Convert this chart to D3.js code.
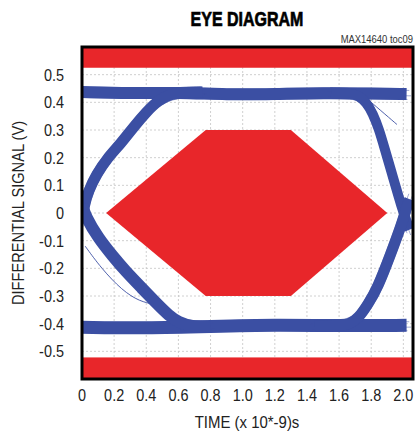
<!DOCTYPE html>
<html>
<head>
<meta charset="utf-8">
<script src="https://cdn.jsdelivr.net/npm/d3@7"></script>
<style>
  body { margin: 0; background: #fff; }
  svg text { font-family: "Liberation Sans", Arial, sans-serif; fill: #222; }
</style>
</head>
<body>
<svg id="chart" width="415" height="440"></svg>
<script>
const WIDTH = 415;
const HEIGHT = 440;
const margin = { top: 47, right: 2, bottom: 61, left: 82 };

// axis ticks
const xTicks = [0, 0.2, 0.4, 0.6, 0.8, 1.0, 1.2, 1.4, 1.6, 1.8, 2.0];
const xTickLabels = ["0", "0.2", "0.4", "0.6", "0.8", "1.0", "1.2", "1.4", "1.6", "1.8", "2.0"];
const yTicks = [0.5, 0.4, 0.3, 0.2, 0.1, 0, -0.1, -0.2, -0.3, -0.4, -0.5];
const yTickLabels = ["0.5", "0.4", "0.3", "0.2", "0.1", "0", "-0.1", "-0.2", "-0.3", "-0.4", "-0.5"];

// mask regions (time in ns, volts)
const maskTop = [0.525, 0.6];
const maskBottom = [-0.6, -0.522];
const maskEye = [[0.15, 0], [0.77, 0.3], [1.3, 0.3], [1.9, 0], [1.3, -0.3], [0.77, -0.3]];

// eye traces (time in ns, volts)
const topRail = [[0.0, 0.437], [0.3, 0.432], [0.6, 0.436], [0.9, 0.428], [1.2, 0.43], [1.5, 0.434], [1.8, 0.432], [2.02, 0.43]];
const bottomRail = [[0.0, -0.413], [0.4, -0.416], [0.8, -0.41], [1.2, -0.404], [1.6, -0.408], [2.02, -0.406]];
const riseLeft = [[0.0, -0.03], [0.01, 0.02], [0.04, 0.08], [0.09, 0.14], [0.16, 0.2], [0.24, 0.25], [0.32, 0.31], [0.4, 0.365], [0.47, 0.405], [0.55, 0.43], [0.65, 0.437], [0.75, 0.437]];
const fallLeft = [[0.0, 0.03], [0.02, -0.01], [0.1, -0.09], [0.19, -0.155], [0.27, -0.21], [0.37, -0.27], [0.47, -0.33], [0.54, -0.37], [0.6, -0.395], [0.68, -0.41], [0.8, -0.412]];
const fallRight = [[1.55, 0.434], [1.67, 0.432], [1.72, 0.425], [1.77, 0.4], [1.81, 0.36], [1.85, 0.3], [1.88, 0.24], [1.94, 0.12], [1.99, 0.02], [2.02, -0.03], [2.04, -0.06]];
const riseRight = [[1.45, -0.408], [1.6, -0.407], [1.67, -0.4], [1.72, -0.38], [1.78, -0.33], [1.84, -0.27], [1.92, -0.15], [1.99, -0.04], [2.02, 0.02], [2.04, 0.05]];
const strayLeft = [[0.02, -0.12], [0.12, -0.2], [0.25, -0.28], [0.36, -0.32], [0.45, -0.33]];
const strayRight = [[1.76, 0.42], [1.86, 0.37], [1.96, 0.32]];

const RED = "#e8262a";
const BLUE = "#3b4fa3";

const svg = d3.select("#chart");

const x = d3.scaleLinear().domain([0, 2.06]).range([margin.left, WIDTH - margin.right]);
const y = d3.scaleLinear().domain([-0.6, 0.6]).range([HEIGHT - margin.bottom, margin.top]);

// text squeezed horizontally, like a condensed face
const narrow = (g, tx, ty, sx, rot) =>
  g.append("text")
    .attr("transform", "translate(" + tx + "," + ty + ")" + (rot ? " rotate(" + rot + ")" : "") + " scale(" + sx + ",1)");

// title
narrow(svg, 247, 26, 0.78)
  .attr("text-anchor", "middle")
  .style("font-size", "20.5px").style("font-weight", "bold")
  .style("fill", "#000")
  .style("stroke", "#000").style("stroke-width", 0.7)
  .text("EYE DIAGRAM");

narrow(svg, 413, 43, 0.9)
  .attr("text-anchor", "end")
  .style("font-size", "10.5px")
  .style("fill", "#333")
  .text("MAX14640 toc09");

svg.append("clipPath").attr("id", "plot-clip")
  .append("rect")
  .attr("x", x(0)).attr("y", y(0.6))
  .attr("width", x(2.06) - x(0)).attr("height", y(-0.6) - y(0.6));

const plot = svg.append("g").attr("clip-path", "url(#plot-clip)");

// grid
plot.append("g")
  .selectAll("line")
  .data(xTicks.slice(1))
  .enter()
  .append("line")
  .attr("x1", (d) => x(d)).attr("x2", (d) => x(d))
  .attr("y1", y(0.6)).attr("y2", y(-0.6))
  .attr("stroke", "#c4c4c4").attr("stroke-width", 0.8)
  .attr("stroke-dasharray", "2,2");

plot.append("g")
  .selectAll("line")
  .data(yTicks)
  .enter()
  .append("line")
  .attr("x1", x(0)).attr("x2", x(2.06))
  .attr("y1", (d) => y(d)).attr("y2", (d) => y(d))
  .attr("stroke", "#c4c4c4").attr("stroke-width", 0.8)
  .attr("stroke-dasharray", "2,2");

// masks
[maskTop, maskBottom].forEach((m) => {
  plot.append("rect")
    .attr("x", x(0)).attr("width", x(2.06) - x(0))
    .attr("y", y(m[1])).attr("height", y(m[0]) - y(m[1]))
    .attr("fill", RED);
});

plot.append("polygon")
  .attr("points", maskEye.map((p) => x(p[0]) + "," + y(p[1])).join(" "))
  .attr("fill", RED);

// traces
const line = d3.line()
  .x((d) => x(d[0]))
  .y((d) => y(d[1]))
  .curve(d3.curveBasis);

const bands = [
  { pts: topRail, w: 12 },
  { pts: bottomRail, w: 13 },
  { pts: riseLeft, w: 11 },
  { pts: fallLeft, w: 12 },
  { pts: fallRight, w: 10 },
  { pts: riseRight, w: 11 }
];
// thin outlying traces around each band (px offsets)
const spread = [[-1, -6], [1, 6], [-5, -2], [5, 2], [-3, 4], [3, -4]];

bands.forEach((b) => {
  spread.forEach((s) => {
    plot.append("path")
      .attr("d", line(b.pts))
      .attr("transform", "translate(" + s[0] * 0.9 + "," + s[1] * 0.9 + ")")
      .attr("fill", "none")
      .attr("stroke", BLUE).attr("stroke-width", 0.8)
      .attr("stroke-opacity", 0.6);
  });
  plot.append("path")
    .attr("d", line(b.pts))
    .attr("fill", "none")
    .attr("stroke", BLUE)
    .attr("stroke-width", b.w)
    .attr("stroke-linecap", "butt");
});

[strayLeft, strayRight].forEach((s) => {
  plot.append("path")
    .attr("d", line(s))
    .attr("fill", "none")
    .attr("stroke", BLUE).attr("stroke-width", 0.9);
});

// frame
svg.append("rect")
  .attr("x", x(0)).attr("y", y(0.6))
  .attr("width", x(2.06) - x(0)).attr("height", y(-0.6) - y(0.6))
  .attr("fill", "none")
  .attr("stroke", "#000").attr("stroke-width", 3);

// tick labels
const yLab = svg.append("g");
yTicks.forEach((d, i) => {
  narrow(yLab, 64, y(d), 0.85)
    .attr("dy", "0.36em")
    .attr("text-anchor", "end")
    .style("font-size", "17px")
    .text(yTickLabels[i]);
});

const xLab = svg.append("g");
xTicks.forEach((d, i) => {
  narrow(xLab, x(d), 401, 0.85)
    .attr("text-anchor", "middle")
    .style("font-size", "17px")
    .text(xTickLabels[i]);
});

// axis titles
narrow(svg, 247, 428, 0.88)
  .attr("text-anchor", "middle")
  .style("font-size", "17px")
  .text("TIME (x 10*-9)s");

narrow(svg, 24, 213, 0.86, -90)
  .attr("text-anchor", "middle")
  .style("font-size", "17px")
  .text("DIFFERENTIAL SIGNAL (V)");
</script>
</body>
</html>
